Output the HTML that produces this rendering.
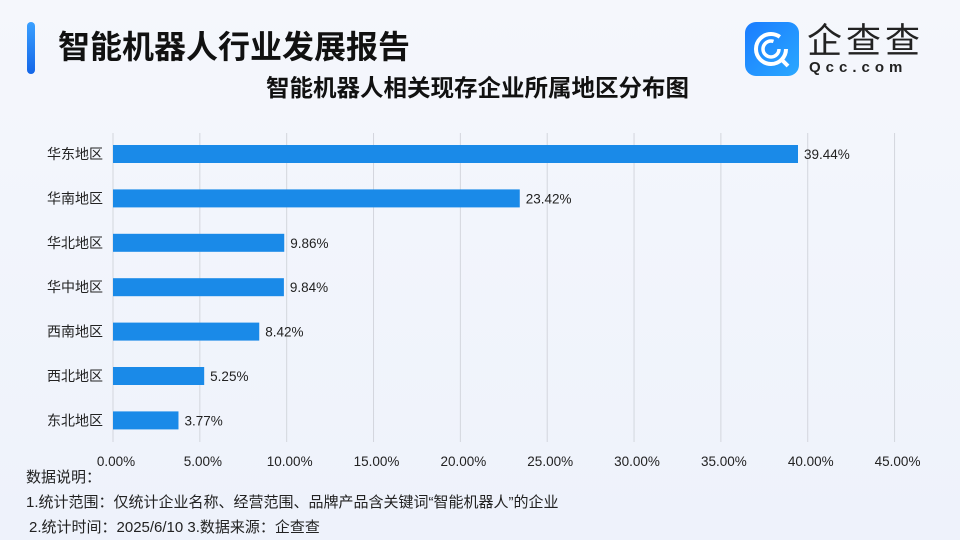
<!DOCTYPE html>
<html><head><meta charset="utf-8">
<style>
body{margin:0;width:960px;height:540px;overflow:hidden;background:linear-gradient(180deg,#f5f7fc 0%,#eef2fb 100%);font-family:"Liberation Sans","Noto Sans CJK SC",sans-serif;position:relative}
.t{position:absolute;white-space:nowrap}
</style></head><body>
<div style="position:absolute;left:27px;top:22px;width:8px;height:52px;border-radius:4px;background:linear-gradient(180deg,#3aa0ff,#1466e8)"></div>
<div class="t" style="left:58px;top:25px;font-size:32px;font-weight:bold;color:#111;line-height:44px">智能机器人行业发展报告</div>
<div class="t" style="left:266px;top:72px;font-size:23.5px;font-weight:bold;color:#111;line-height:32px">智能机器人相关现存企业所属地区分布图</div>
<div style="position:absolute;left:745px;top:22px">
 <div style="position:absolute;left:0;top:0;width:54px;height:54px;border-radius:11px;background:linear-gradient(135deg,#1a7cff,#2aa8ff)">
  <svg width="54" height="54"><circle cx="26" cy="27" r="15" fill="none" stroke="#fff" stroke-width="4" stroke-dasharray="80 20"/><circle cx="26" cy="27" r="8" fill="none" stroke="#fff" stroke-width="3.5" stroke-dasharray="40 10"/><line x1="36" y1="37" x2="43" y2="44" stroke="#fff" stroke-width="4"/></svg>
 </div>
 <div class="t" style="left:62px;top:0px;font-size:35px;line-height:40px;color:#222;letter-spacing:4px">企查查</div>
 <div class="t" style="left:64px;top:38px;font-size:15px;font-weight:bold;line-height:16px;color:#222;letter-spacing:5px">Qcc.com</div>
</div>
<svg id="chart" width="960" height="540" style="position:absolute;left:0;top:0"></svg>
<div class="t" style="left:26px;top:466px;font-size:15px;color:#222">数据说明：</div>
<div class="t" style="left:26px;top:491px;font-size:15px;color:#222">1.统计范围：仅统计企业名称、经营范围、品牌产品含关键词“智能机器人”的企业</div>
<div class="t" style="left:29px;top:516px;font-size:15px;color:#222">2.统计时间：2025/6/10 3.数据来源：企查查</div>
<script>
const categories=["华东地区","华南地区","华北地区","华中地区","西南地区","西北地区","东北地区"];
const values=[39.44,23.42,9.86,9.84,8.42,5.25,3.77];
const ticks=[0,5,10,15,20,25,30,35,40,45];
const ns="http://www.w3.org/2000/svg",svg=document.getElementById("chart");
const x0=113,pxPer=(798-113)/39.44,yTop=132,step=44.4,barH=18;
const X=v=>x0+v*pxPer, Y=i=>yTop+22+i*step;
function mk(t,a){const e=document.createElementNS(ns,t);for(const k in a)e.setAttribute(k,a[k]);svg.appendChild(e);return e;}
ticks.forEach(t=>{
 const g=mk("line",{x1:X(t),x2:X(t),y1:133,y2:442,stroke:"#d3d6dd","stroke-width":1});
 
 
 const l=mk("text",{x:X(t)+3,y:466,"text-anchor":"middle","font-size":13.5,fill:"#222"});
 l.textContent=t.toFixed(2)+"%";
 
 
});
categories.forEach((c,i)=>{
 const b=mk("rect",{x:x0,y:Y(i)-barH/2,width:X(values[i])-x0,height:barH,fill:"#1a8ae8"});
 
 
 const l=mk("text",{x:103,y:Y(i)+5,"text-anchor":"end","font-size":14,fill:"#222"});
 l.textContent=c;
 
 
 const v=mk("text",{x:X(values[i])+6,y:Y(i)+5,"font-size":13.5,fill:"#222"});
 v.textContent=values[i].toFixed(2)+"%";
 
 
});
</script>
</body></html>
